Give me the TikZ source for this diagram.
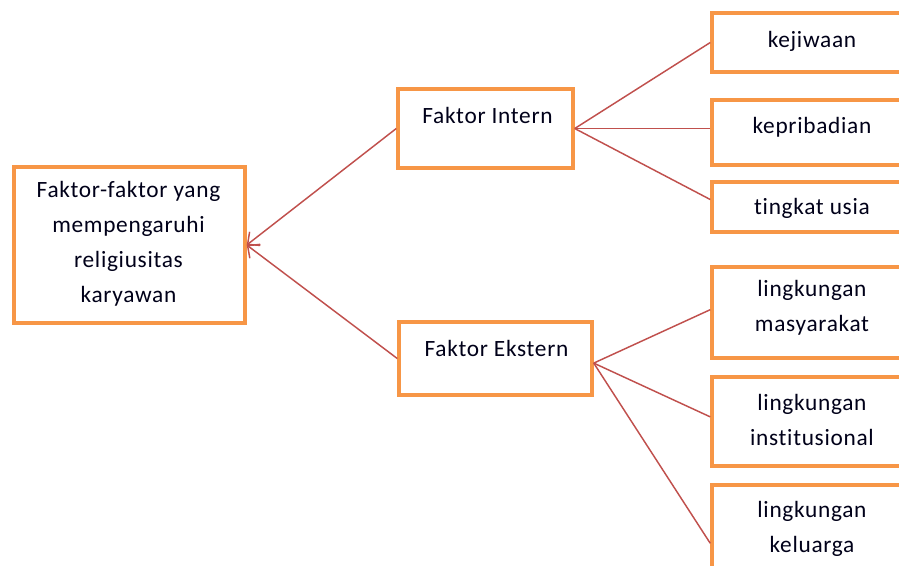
\documentclass[tikz,border=0pt]{standalone}
\usepackage{fontspec}
\setmainfont[Ligatures=NoCommon,LetterSpace=3]{Carlito}
\usetikzlibrary{arrows.meta,calc}
\definecolor{boxorange}{HTML}{F79646}
\definecolor{linkred}{HTML}{C0504D}
\begin{document}
\begin{tikzpicture}[x=0.75pt,y=-0.75pt,
  box/.style={draw=boxorange,line width=2.6pt,fill=white,rectangle,inner sep=0pt},
  lbl/.style={font=\fontsize{17.5pt}{26.25pt}\selectfont,align=center,inner sep=0pt,text=black!90!blue},
  link/.style={draw=linkred,line width=1.1pt},
  arr/.style={link,-{Straight Barb[length=7pt,width=13pt,line width=1.1pt]}}]
\useasboundingbox (0,0) rectangle (899,565);
% boxes
\node[box,minimum width=231*0.75pt,minimum height=156*0.75pt] (main) at (129.5,245) {};
\node[box,minimum width=175*0.75pt,minimum height=79*0.75pt] (intern) at (485.5,128.5) {};
\node[box,minimum width=193*0.75pt,minimum height=73*0.75pt] (ekstern) at (495.5,358.5) {};
\node[box,minimum width=200*0.75pt,minimum height=59*0.75pt] (kej) at (812,42.5) {};
\node[box,minimum width=200*0.75pt,minimum height=65*0.75pt] (kep) at (812,132.5) {};
\node[box,minimum width=200*0.75pt,minimum height=50*0.75pt] (usia) at (812,207) {};
\node[box,minimum width=200*0.75pt,minimum height=91*0.75pt] (masy) at (812,312.5) {};
\node[box,minimum width=200*0.75pt,minimum height=89*0.75pt] (inst) at (812,421.5) {};
\node[box,minimum width=200*0.75pt,minimum height=95*0.75pt] (kel) at (812,532.5) {};
% texts
\node[lbl] (tmain) at (128.5,244) {Faktor-faktor yang\\mempengaruhi\\religiusitas\\karyawan};
\node[lbl] (tintern) at (487.5,115) {Faktor Intern};
\node[lbl] (tekstern) at (496.5,348) {Faktor Ekstern};
\node[lbl] (tkej) at (812,41) {kejiwaan};
\node[lbl] (tkep) at (812,127) {kepribadian};
\node[lbl] (tusia) at (812,208) {tingkat usia};
\node[lbl] (tmasy) at (812,307.5) {lingkungan\\masyarakat};
\node[lbl] (tinst) at (812,420) {lingkungan\\institusional};
\node[lbl] (tkel) at (812,528.5) {lingkungan\\keluarga};
% connectors
\draw[arr] (intern.west) -- (main.east);
\draw[arr] (ekstern.west) -- (main.east);
\draw[link] (intern.east) -- (kej.west);
\draw[link] (intern.east) -- (intern.east -| kep.west);
\draw[link] (intern.east) -- ($(usia.north west)!0.36!(usia.south west)$);
\draw[link] ($(ekstern.north east)!0.56!(ekstern.south east)$) -- ($(masy.north west)!0.47!(masy.south west)$);
\draw[link] ($(ekstern.north east)!0.56!(ekstern.south east)$) -- ($(inst.north west)!0.45!(inst.south west)$);
\draw[link] ($(ekstern.north east)!0.56!(ekstern.south east)$) -- ($(kel.north west)!0.61!(kel.south west)$);
\end{tikzpicture}
\end{document}
